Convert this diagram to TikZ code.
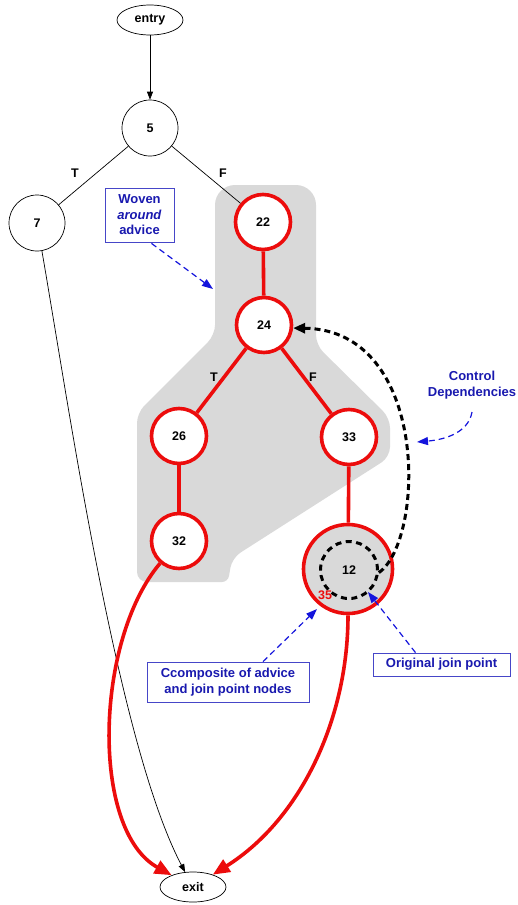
\documentclass[tikz,border=0pt]{standalone}
\usepackage{fontspec}
\setmainfont{Liberation Sans}
\usetikzlibrary{arrows.meta,shapes.geometric}
\definecolor{cred}{RGB}{236,12,12}
\definecolor{cgray}{RGB}{217,217,217}
\definecolor{cblue}{RGB}{25,25,175}
\definecolor{cbox}{RGB}{70,70,200}
\definecolor{carrow}{RGB}{20,20,220}
\tikzset{
  nfont/.style={font=\fontsize{12.5}{14}\selectfont\bfseries},
  bnode/.style={circle, draw, line width=0.7pt, minimum size=56pt, inner sep=0pt, fill=white, nfont},
  rnode/.style={circle, draw=cred, line width=3.6pt, fill=white, minimum size=55pt, inner sep=0pt, nfont},
  enode/.style={ellipse, draw, line width=0.7pt, minimum width=66pt, minimum height=30pt, inner sep=0pt, fill=white, nfont},
  ann/.style={draw=cbox, line width=0.8pt, text=cblue, fill=white, font=\fontsize{13}{15.5}\selectfont\bfseries, align=center, inner sep=0pt},
  redge/.style={draw=cred, line width=3.6pt},
  rarrow/.style={draw=cred, line width=3.6pt, -{Triangle[length=17pt,width=14pt]}},
  bedge/.style={line width=0.7pt},
  blarrow/.style={carrow, dashed, dash pattern=on 6pt off 4pt, line width=1.2pt, -{Triangle[length=11pt,width=8pt]}},
  lbl/.style={font=\fontsize{12.5}{14}\selectfont\bfseries}
}
\begin{document}
\begin{tikzpicture}[x=1pt,y=-1pt]
\useasboundingbox (0,0) rectangle (517,905);
% gray advice region
\fill[cgray] (215,260) [rounded corners=20pt] -- (215,185) -- (316,185) [rounded corners=10pt] -- (316,345) -- (390,418) -- (390,457) -- (232,558) [rounded corners=6pt] -- (228,582) [rounded corners=10pt] -- (137,582) -- (137,413) -- (215,335) -- cycle;

% nodes
\node[enode] (entry) at (150,20) {entry};
\node[bnode] (n5) at (150,128) {5};
\node[bnode] (n7) at (37,223) {7};
\node[rnode] (n22) at (263,222) {22};
\node[rnode] (n24) at (264,325) {24};
\node[rnode] (n26) at (179,436) {26};
\node[rnode] (n33) at (349,437) {33};
\node[rnode] (n32) at (179,541) {32};
\node[circle, draw=cred, line width=3.6pt, fill=cgray, minimum size=89pt, inner sep=0pt] (n35) at (348,569) {};
\node[circle, draw, line width=3pt, dash pattern=on 6pt off 4.5pt, minimum size=57pt, inner sep=0pt, nfont] (n12) at (349,570) {12};
\node[text=cred, nfont, inner sep=0pt] (l35) at (325,595) {35};
\node[enode] (exit) at (193,887) {exit};

% edges
\draw[bedge, -{Triangle[length=8pt,width=6pt]}] (entry) -- (n5);
\draw[bedge] (n5) -- (n7);
\draw[bedge] (n5) -- (n22);
\node[lbl] (t1) at (75,173) {T};
\node[lbl] (f1) at (223,173) {F};
\draw[redge] (n22) -- (n24);
\draw[redge] (n24) -- (n26);
\draw[redge] (n24) -- (n33);
\draw[redge] (n26) -- (n32);
\draw[redge] (n33) -- (n35);
\node[lbl] (t2) at (214,377) {T};
\node[lbl] (f2) at (313,377) {F};

\draw[bedge, -{Triangle[length=8pt,width=6pt]}] (n7) .. controls (68,400) and (117,743) .. (exit);
\draw[rarrow] (n32) .. controls (95,640) and (90,830) .. (exit);
\draw[rarrow] (n35) .. controls (348,720) and (300,820) .. (exit);

% control dependency
\draw[line width=3pt, dash pattern=on 6pt off 4pt, -{Triangle[length=12pt,width=10pt]}] (n12.-5) .. controls (425,540) and (430,330) .. (n24.-6);

% annotations
\node[ann, minimum width=69pt, minimum height=54pt] (woven) at (139.5,215) {Woven\\\textit{around}\\advice};
\draw[blarrow] (woven.south) ++(12,1) coordinate (w0) (w0) -- (213,289);
\node[text=cblue, font=\fontsize{13}{15.5}\selectfont\bfseries, align=center, inner sep=0pt] (ctrl) at (472,385) {Control\\Dependencies};
\draw[blarrow] (472,412) .. controls (468,435) and (440,440) .. (417,442);
\node[ann, minimum width=162pt, minimum height=40pt] (comp) at (228,682) {Ccomposite of advice\\and join point nodes};
\draw[blarrow] (comp.north) ++(35,0) coordinate (c0) (c0) -- (317,609);
\node[ann, minimum width=137pt, minimum height=23pt] (orig) at (441.5,664.5) {Original join point};
\draw[blarrow] (orig.north) ++(-26,0) coordinate (o0) (o0) -- (368,592);
\end{tikzpicture}
\end{document}
